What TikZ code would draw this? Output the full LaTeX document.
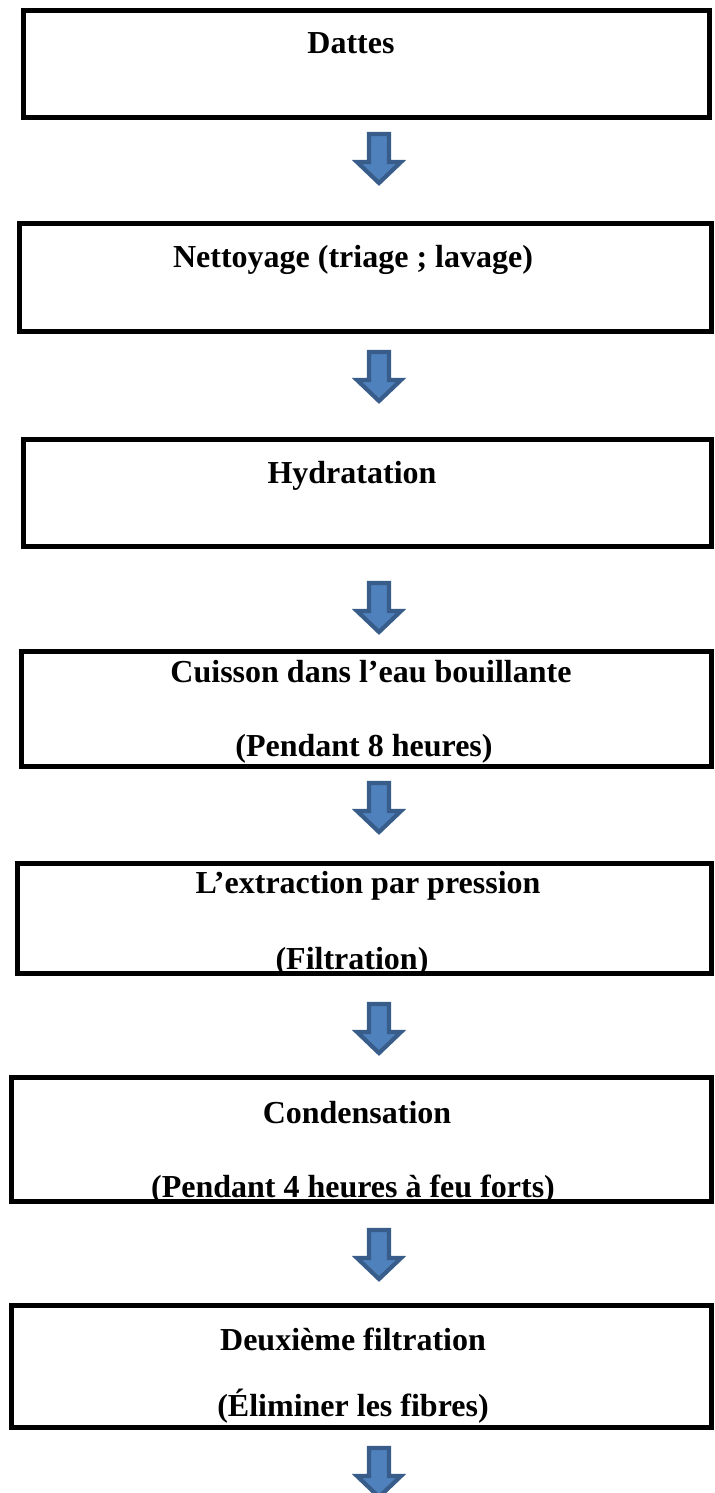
\documentclass[tikz,border=0pt]{standalone}
\usepackage{fontspec}
\setmainfont{Liberation Serif}
\usetikzlibrary{fit}

\definecolor{arrowfill}{HTML}{4F81BD}
\definecolor{arrowline}{HTML}{385D8A}

\tikzset{
  stepbox/.style={draw, line width=2.5pt, inner sep=0pt},
  steplabel/.style={anchor=base, inner sep=0pt, font=\fontsize{16}{19}\selectfont\bfseries},
  blockarrow/.style={fill=arrowfill, draw=arrowline, line width=2.1pt, line join=miter},
}

\begin{document}
\begin{tikzpicture}[x=0.5pt, y=-0.5pt]
    \useasboundingbox (0,0) rectangle (715,1493);

    % Process boxes
    \node[stepbox, fit={(23.5,10.5) (709.5,117.5)}] (b1) {};
    \node[stepbox, fit={(19.5,223.5) (711,331.5)}] (b2) {};
    \node[stepbox, fit={(23.5,439.5) (711,546.5)}] (b3) {};
    \node[stepbox, fit={(21.5,651.5) (711,766)}] (b4) {};
    \node[stepbox, fit={(17.5,863.5) (711,973.5)}] (b5) {};
    \node[stepbox, fit={(11.5,1077.5) (711,1201.5)}] (b6) {};
    \node[stepbox, fit={(11.5,1305.5) (711,1427.5)}] (b7) {};

    % Box texts
    \node[steplabel] (t1) at (351,54) {Dattes};
    \node[steplabel] (t2) at (353,267) {Nettoyage (triage ; lavage)};
    \node[steplabel] (t3) at (352,483) {Hydratation};
    \node[steplabel] (t4a) at (371,682) {Cuisson dans l’eau bouillante};
    \node[steplabel] (t4b) at (364,756) {(Pendant 8 heures)};
    \node[steplabel] (t5a) at (368,893) {L’extraction par pression};
    \node[steplabel] (t5b) at (352,969) {(Filtration)};
    \node[steplabel] (t6a) at (357,1123) {Condensation};
    \node[steplabel] (t6b) at (353,1197) {(Pendant 4 heures à feu forts)};
    \node[steplabel] (t7a) at (353,1350) {Deuxième filtration};
    \node[steplabel] (t7b) at (353,1416) {(Éliminer les fibres)};

    % Block arrows between the steps
    \foreach \n/\y in {a1/132, a2/350, a3/581, a4/781, a5/1002, a6/1228, a7/1446} {
        \coordinate (\n) at (379,\y);
        \draw[blockarrow] (\n) ++(-10,2) -- ++(20,0) -- ++(0,28) -- ++(12,0)
            -- ++(-22,21) -- ++(-22,-21) -- ++(12,0) -- cycle;
    }

\end{tikzpicture}
\end{document}
